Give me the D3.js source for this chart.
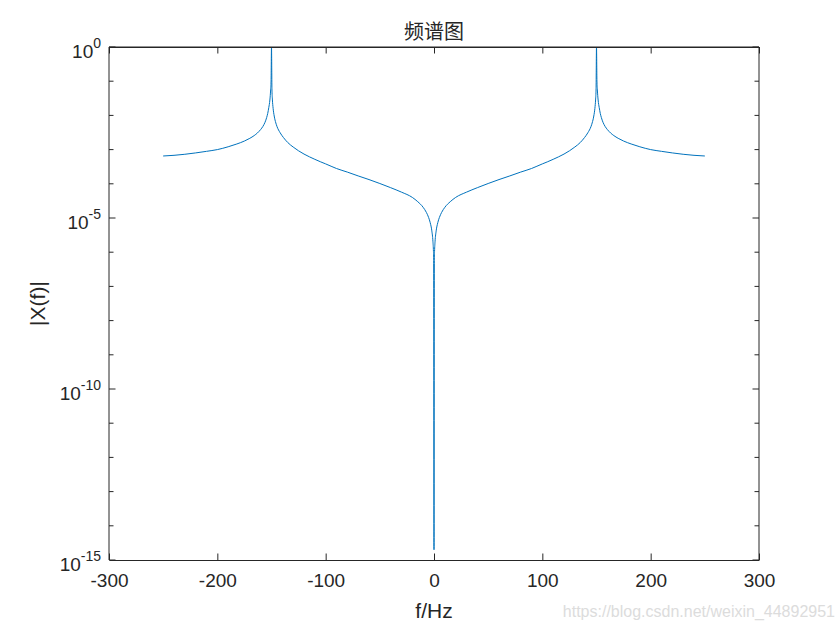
<!DOCTYPE html>
<html>
<head>
<meta charset="utf-8">
<script src="https://cdn.jsdelivr.net/npm/d3@7"></script>
<style>
  body { margin: 0; background: #fff; }
  svg { display: block; font-family: "Liberation Sans", Arial, sans-serif; }
  .axis path, .axis line { stroke: #262626; }
  .axis text { fill: #262626; }
</style>
</head>
<body>
<svg id="chart"></svg>
<script>
// frequency (Hz) and |X(f)|
const freqs = [
  -250, -240, -230, -220, -210, -200, -190, -182, -175, -170, -166, -163, -160, -158, -156, -154.5, -153.5, -152.5, -151.5, -150.8, -150.4,
  -150,
  -149.6, -149.2, -148.5, -147.5, -146, -145, -142, -139, -135, -130, -125, -120, -115, -110, -105, -100, -90, -80, -70, -60, -50, -40, -30, -20, -15, -10, -7, -5, -3.5, -2, -1, -0.5, -0.3,
  0,
  0.3, 0.5, 1, 2, 3.5, 5, 7, 10, 15, 20, 30, 40, 50, 60, 70, 80, 90, 100, 105, 110, 115, 120, 125, 130, 135, 139, 142, 145, 146, 147.5, 148.5, 149.2, 149.6,
  150,
  150.4, 150.8, 151.5, 152.5, 153.5, 154.5, 156, 158, 160, 163, 166, 170, 175, 182, 190, 200, 210, 220, 230, 240, 250];

const magnitudes = [
  6.5e-4, 6.8e-4, 7.3e-4, 8.0e-4, 8.9e-4, 1.0e-3, 1.21e-3, 1.46e-3, 1.78e-3, 2.14e-3, 2.57e-3, 3.06e-3, 3.87e-3, 4.73e-3, 6.28e-3, 8.6e-3, 1.14e-2, 1.7e-2, 2.82e-2, 5.53e-2, 1.01e-1,
  1,
  6.0e-2, 3.0e-2, 1.6e-2, 9.6e-3, 6.0e-3, 4.8e-3, 3.1e-3, 2.26e-3, 1.61e-3, 1.19e-3, 9.2e-4, 7.4e-4, 6.15e-4, 5.2e-4, 4.43e-4, 3.82e-4, 2.8e-4, 2.2e-4, 1.7e-4, 1.33e-4, 1.02e-4, 7.7e-5, 5.7e-5, 4.0e-5, 3.0e-5, 2.05e-5, 1.45e-5, 1.04e-5, 7.3e-6, 4.2e-6, 2.1e-6, 1.05e-6, 6.3e-7,
  2e-15,
  6.3e-7, 1.05e-6, 2.1e-6, 4.2e-6, 7.3e-6, 1.04e-5, 1.45e-5, 2.05e-5, 3.0e-5, 4.0e-5, 5.7e-5, 7.7e-5, 1.02e-4, 1.33e-4, 1.7e-4, 2.2e-4, 2.8e-4, 3.82e-4, 4.43e-4, 5.2e-4, 6.15e-4, 7.4e-4, 9.2e-4, 1.19e-3, 1.61e-3, 2.26e-3, 3.1e-3, 4.8e-3, 6.0e-3, 9.6e-3, 1.6e-2, 3.0e-2, 6.0e-2,
  1,
  1.01e-1, 5.53e-2, 2.82e-2, 1.7e-2, 1.14e-2, 8.6e-3, 6.28e-3, 4.73e-3, 3.87e-3, 3.06e-3, 2.57e-3, 2.14e-3, 1.78e-3, 1.46e-3, 1.21e-3, 1.0e-3, 8.9e-4, 8.0e-4, 7.3e-4, 6.8e-4, 6.5e-4];

const xTicks = [-300, -200, -100, 0, 100, 200, 300];
const yDecades = [0, -1, -2, -3, -4, -5, -6, -7, -8, -9, -10, -11, -12, -13, -14, -15];
const yLabelDecades = [0, -5, -10, -15];

const titleText = '频谱图';
const xLabelText = 'f/Hz';
const yLabelText = '|X(f)|';
const watermarkText = 'https://blog.csdn.net/weixin_44892951';

class SpectrumPlot {
  constructor(_config) {
    this.config = {
      parentElement: _config.parentElement,
      containerWidth: 840,
      containerHeight: 630,
      margin: {top: 47, right: 81, bottom: 70, left: 109}
    };
    this.data = freqs.map((f, i) => ({f: f, m: magnitudes[i]}));
    this.initVis();
  }

  initVis() {
    let vis = this;
    const m = vis.config.margin;
    vis.width = vis.config.containerWidth - m.left - m.right;
    vis.height = vis.config.containerHeight - m.top - m.bottom;

    vis.svg = d3.select(vis.config.parentElement)
      .attr('width', vis.config.containerWidth)
      .attr('height', vis.config.containerHeight);

    vis.chart = vis.svg.append('g')
      .attr('transform', `translate(${m.left},${m.top})`);

    vis.xScale = d3.scaleLinear().domain([-300, 300]).range([0, vis.width]);
    vis.yScale = d3.scaleLog().domain([1e-15, 1]).range([vis.height, 0]);

    vis.renderVis();
  }

  renderVis() {
    let vis = this;

    // data line
    const line = d3.line()
      .x(d => vis.xScale(d.f))
      .y(d => vis.yScale(d.m))
      .curve(d3.curveMonotoneX);

    vis.chart.append('path')
      .datum(vis.data)
      .attr('fill', 'none')
      .attr('stroke', '#0072BD')
      .attr('stroke-width', 1)
      .attr('d', line);

    // x axes (bottom with labels, top ticks only), ticks point inward
    const xAxis = d3.axisBottom(vis.xScale)
      .tickValues(xTicks)
      .tickFormat(d => String(d))   // plain hyphen like MATLAB
      .tickSize(-6.5)
      .tickSizeOuter(0)
      .tickPadding(14);
    const xg = vis.chart.append('g')
      .attr('class', 'axis')
      .attr('transform', `translate(0,${vis.height})`)
      .call(xAxis);
    xg.selectAll('text').attr('font-size', 19);

    vis.chart.append('g')
      .attr('class', 'axis')
      .call(d3.axisTop(vis.xScale).tickValues(xTicks).tickSize(-6.5).tickSizeOuter(0).tickFormat(''));

    // y axes: a tick each decade
    const yVals = yDecades.map(e => Math.pow(10, e));
    const tickLen = v => (yLabelDecades.includes(Math.round(Math.log10(v))) ? -6.5 : -4.5);

    [[0, 1], [vis.width, -1]].forEach(([x0, dir]) => {
      const g = vis.chart.append('g').attr('class', 'axis');
      g.append('line')
        .attr('x1', x0).attr('x2', x0)
        .attr('y1', 0).attr('y2', vis.height)
        .attr('stroke', '#262626');
      g.selectAll('.ytick')
        .data(yVals)
        .join('line')
        .attr('class', 'ytick')
        .attr('x1', x0)
        .attr('x2', d => x0 - dir * tickLen(d))
        .attr('y1', d => vis.yScale(d))
        .attr('y2', d => vis.yScale(d))
        .attr('stroke', '#262626');
    });

    // top box edge
    vis.chart.append('line')
      .attr('x1', 0).attr('x2', vis.width).attr('y1', 0).attr('y2', 0)
      .attr('stroke', '#262626');

    // y tick labels as 10^n
    const labels = vis.chart.selectAll('.ylabel')
      .data(yLabelDecades)
      .join('text')
      .attr('class', 'ylabel')
      .attr('fill', '#262626')
      .attr('text-anchor', 'end')
      .attr('x', -8)
      .attr('y', d => vis.yScale(Math.pow(10, d)) + 11)
      .attr('font-size', 19);
    labels.append('tspan').text('10');
    labels.append('tspan')
      .attr('dy', -10)
      .attr('font-size', 14)
      .text(d => d === 0 ? '0' : '-' + Math.abs(d));

    // title and axis labels
    vis.svg.append('text')
      .attr('x', vis.config.margin.left + vis.width / 2)
      .attr('y', 39)
      .attr('text-anchor', 'middle')
      .attr('font-size', 20)
      .attr('font-family', '"Noto Sans CJK SC", sans-serif')
      .attr('fill', '#262626')
      .text(titleText);

    vis.svg.append('text')
      .attr('x', vis.config.margin.left + vis.width / 2)
      .attr('y', 618)
      .attr('text-anchor', 'middle')
      .attr('font-size', 21)
      .attr('fill', '#262626')
      .text(xLabelText);

    vis.svg.append('text')
      .attr('transform', `translate(45,${vis.config.margin.top + vis.height / 2}) rotate(-90)`)
      .attr('text-anchor', 'middle')
      .attr('font-size', 21)
      .attr('fill', '#262626')
      .text(yLabelText);

    vis.svg.append('text')
      .attr('x', 835)
      .attr('y', 617)
      .attr('text-anchor', 'end')
      .attr('font-size', 16)
      .attr('fill', '#dcdcdc')
      .text(watermarkText);
  }
}

new SpectrumPlot({parentElement: '#chart'});
</script>
</body>
</html>
